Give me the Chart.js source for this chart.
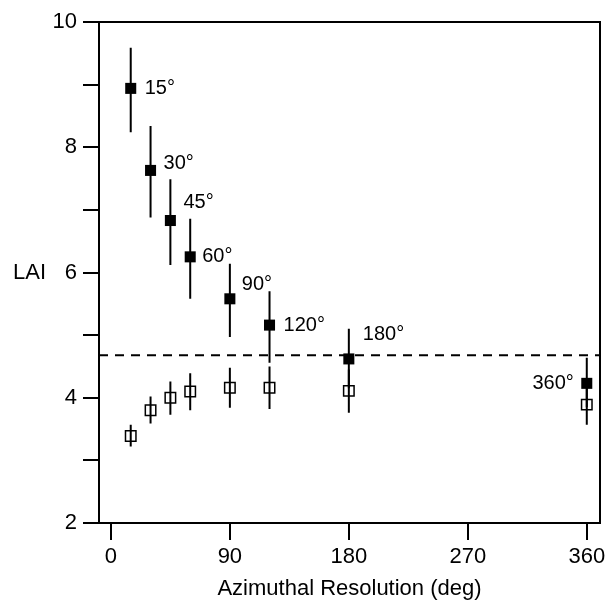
<!DOCTYPE html>
<html>
<head>
<meta charset="utf-8">
<script src="https://cdn.jsdelivr.net/npm/chart.js@4"></script>
<style>
  html, body { margin: 0; padding: 0; background: #fff; }
  #wrap { width: 612px; height: 605px; }
</style>
</head>
<body>
<div id="wrap"><canvas id="chartLAI"></canvas></div>
<script>
// ---------- dados ----------
const resolutions = [15, 30, 45, 60, 90, 120, 180, 360];
const resLabels = ['15°', '30°', '45°', '60°', '90°', '120°', '180°', '360°'];

// quadrados cheios
const laiFilled  = [8.94, 7.63, 6.83, 6.25, 5.58, 5.16, 4.62, 4.23];
const filledLow  = [8.24, 6.88, 6.12, 5.58, 4.97, 4.56, 4.15, 3.85];
const filledHigh = [9.59, 8.34, 7.49, 6.86, 6.14, 5.70, 5.10, 4.64];

// quadrados vazios
const laiOpen  = [3.39, 3.80, 4.00, 4.10, 4.16, 4.16, 4.11, 3.89];
const openLow  = [3.22, 3.59, 3.73, 3.80, 3.84, 3.82, 3.76, 3.57];
const openHigh = [3.57, 4.02, 4.26, 4.39, 4.48, 4.50, 4.45, 4.20];

const referenceLAI = 4.68;
const xTicks = [0, 90, 180, 270, 360];
const yTicks = [2, 3, 4, 5, 6, 7, 8, 9, 10];

// deslocamento dos rótulos (px) em relação ao ponto
const labelOffsets = [[14, 0], [13, -7], [13, -18], [12, 0], [12, -14], [14, 0], [14, -24], [-13, 0]];

const FONT = '"Liberation Sans", Arial, Helvetica, sans-serif';
const X_MIN = -9, X_MAX = 370;

// barras de erro como segmentos separados por null
const errorBars = (low, high) => resolutions.flatMap((x, i) => [
    { x, y: low[i] }, { x, y: high[i] }, { x, y: null }
]);

const frame = {
    id: 'frame',
    afterDatasetsDraw(chart) {
        const { ctx, chartArea: a, scales } = chart;
        ctx.save();
        ctx.strokeStyle = '#000';
        ctx.lineWidth = 2;
        ctx.beginPath();
        ctx.moveTo(a.left, a.top);
        ctx.lineTo(a.right, a.top);
        ctx.lineTo(a.right, a.bottom);
        ctx.stroke();

        // rótulo LAI na horizontal
        ctx.fillStyle = '#000';
        ctx.font = '22px ' + FONT;
        ctx.textBaseline = 'middle';
        ctx.textAlign = 'left';
        ctx.fillText('LAI', 13, scales.y.getPixelForValue(6));

        // rótulos dos pontos cheios
        ctx.font = '20px ' + FONT;
        const meta = chart.getDatasetMeta(0);
        meta.data.forEach((pt, i) => {
            const [dx, dy] = labelOffsets[i];
            ctx.textAlign = dx < 0 ? 'right' : 'left';
            ctx.fillText(resLabels[i], pt.x + dx, pt.y + dy);
        });
        ctx.restore();
    }
};

new Chart(document.getElementById('chartLAI').getContext('2d'), {
    type: 'scatter',
    data: {
        datasets: [
            {
                label: 'filled',
                data: resolutions.map((x, i) => ({ x, y: laiFilled[i] })),
                pointStyle: 'rect',
                pointRadius: 7.8,
                pointBackgroundColor: '#000',
                pointBorderColor: '#000',
                pointBorderWidth: 0
            },
            {
                label: 'open',
                data: resolutions.map((x, i) => ({ x, y: laiOpen[i] })),
                pointStyle: 'rect',
                pointRadius: 7.4,
                pointBackgroundColor: 'rgba(0,0,0,0)',
                pointBorderColor: '#000',
                pointBorderWidth: 1.5
            },
            {
                label: 'filledErr',
                data: errorBars(filledLow, filledHigh),
                showLine: true,
                spanGaps: false,
                borderColor: '#000',
                borderWidth: 2,
                pointRadius: 0
            },
            {
                label: 'openErr',
                data: errorBars(openLow, openHigh),
                showLine: true,
                spanGaps: false,
                borderColor: '#000',
                borderWidth: 2,
                pointRadius: 0
            },
            {
                label: 'ref',
                data: [{ x: X_MIN, y: referenceLAI }, { x: X_MAX, y: referenceLAI }],
                showLine: true,
                borderColor: '#000',
                borderWidth: 2,
                borderDash: [9, 7],
                pointRadius: 0
            }
        ]
    },
    options: {
        responsive: true,
        maintainAspectRatio: false,
        animation: false,
        layout: { padding: { left: 0, top: 22, right: 12, bottom: 0 } },
        plugins: { legend: { display: false }, tooltip: { enabled: false } },
        scales: {
            x: {
                type: 'linear',
                min: X_MIN,
                max: X_MAX,
                afterBuildTicks: s => { s.ticks = xTicks.map(v => ({ value: v })); },
                afterFit: s => { s.height = 82; },
                grid: { drawOnChartArea: false, drawTicks: true, tickLength: 17, color: '#000', lineWidth: 2 },
                border: { color: '#000', width: 2 },
                ticks: { color: '#000', font: { family: FONT, size: 22 }, padding: 4, maxRotation: 0 },
                title: {
                    display: true,
                    text: 'Azimuthal Resolution (deg)',
                    color: '#000',
                    font: { family: FONT, size: 22 },
                    padding: { top: 0, bottom: 3 }
                }
            },
            y: {
                min: 2,
                max: 10,
                afterBuildTicks: s => { s.ticks = yTicks.map(v => ({ value: v })); },
                afterFit: s => { s.width = 99; },
                grid: { drawOnChartArea: false, drawTicks: true, tickLength: 16, color: '#000', lineWidth: 2 },
                border: { color: '#000', width: 2 },
                ticks: {
                    color: '#000',
                    font: { family: FONT, size: 22 },
                    padding: 6,
                    callback: v => (v % 2 === 0 ? String(v) : '')
                }
            }
        }
    },
    plugins: [frame]
});
</script>
</body>
</html>
